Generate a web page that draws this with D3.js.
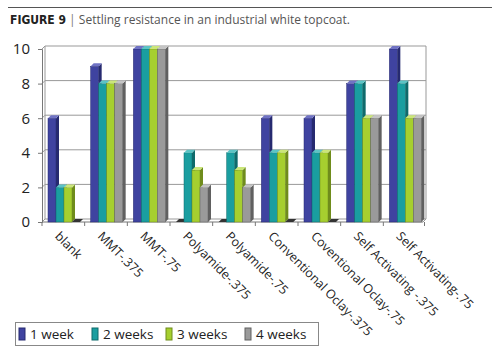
<!DOCTYPE html>
<html><head><meta charset="utf-8">
<script src="https://cdn.jsdelivr.net/npm/d3@7"></script>
<style>body{margin:0;background:#fff}svg{display:block}text{font-family:"Open Sans","Noto Sans",sans-serif}</style>
</head><body><svg id="c" width="500" height="359"></svg>
<script>
const categories = ["blank","MMT-.375","MMT-.75","Polyamide-.375","Polyamide-.75","Conventional Oclay-.375","Coventional Oclay-.75","Self Activating -.375","Self Activating-.75"];
const seriesNames = ["1 week","2 weeks","3 weeks","4 weeks"];
const week1 = [6,9,10,0,0,6,6,8,10];
const week2 = [2,8,10,4,4,4,4,8,8];
const week3 = [2,8,10,3,3,4,4,6,6];
const week4 = [0,8,10,2,2,0,0,6,6];
const yTicks = [0,2,4,6,8,10];
const seriesValues = [week1,week2,week3,week4];
const colors = [
  {front:"#3f43a0", side:"#262a70", top:"#7073c4"},
  {front:"#1a9ea0", side:"#0f6a6b", top:"#5cc4c5"},
  {front:"#a6cf2f", side:"#6f8c1c", top:"#cbe67a"},
  {front:"#9a9a9a", side:"#606060", top:"#c4c4c4"}
];

const svg = d3.select("#c");
const dx = 3, dy = 3;
const pLeft = 42, pRight = 426 - dx, pBottom = 222, pTop = 49;

// header rule
svg.append("line").attr("x1",8).attr("x2",492).attr("y1",7.5).attr("y2",7.5).attr("stroke","#555").attr("stroke-width",1.2);
const title = svg.append("text").attr("x",10).attr("y",24).attr("font-size",12);
title.append("tspan").text("FIGURE 9").attr("font-weight","bold").attr("font-family","'DejaVu Sans Condensed','Liberation Sans Narrow',sans-serif").attr("fill","#222");
title.append("tspan").text(" | ").attr("fill","#777");
title.append("tspan").text("Settling resistance in an industrial white topcoat.").attr("fill","#555");

const y = d3.scaleLinear().domain([0,10]).range([pBottom, pTop]);
const x0 = d3.scaleBand().domain(categories).range([pLeft, pRight + dx]).padding(0);
const x1 = d3.scaleBand().domain(seriesNames).range([6, 38]).padding(0);

// back wall gridlines
const g = svg.append("g");
yTicks.forEach(t => {
  g.append("line").attr("x1", pLeft + dx).attr("x2", pRight + dx)
    .attr("y1", y(t) - dy).attr("y2", y(t) - dy).attr("stroke", "#999").attr("stroke-width", 1);
  g.append("line").attr("x1", pLeft).attr("x2", pLeft + dx)
    .attr("y1", y(t)).attr("y2", y(t) - dy).attr("stroke", "#999");
});
g.append("line").attr("x1", pRight + dx).attr("x2", pRight + dx).attr("y1", y(10) - dy).attr("y2", y(0) - dy).attr("stroke","#999");
g.append("line").attr("x1", pLeft + dx).attr("x2", pLeft + dx).attr("y1", y(10) - dy).attr("y2", y(0) - dy).attr("stroke","#999");
g.append("line").attr("x1", pRight).attr("x2", pRight + dx).attr("y1", y(0)).attr("y2", y(0) - dy).attr("stroke","#999");

// y axis
const yAxis = d3.axisLeft(y).tickValues(yTicks).tickSize(4).tickPadding(8).tickFormat(d3.format("d"));
const ya = svg.append("g").attr("transform", `translate(${pLeft},0)`).call(yAxis);
ya.select(".domain").attr("stroke","#777");
ya.selectAll(".tick line").attr("stroke","#777");
ya.selectAll("text").attr("font-size",15).attr("fill","#222").attr("font-family","'Open Sans',sans-serif");

// x axis
const xAxis = d3.axisBottom(x0).tickSize(4).tickFormat("").tickSizeOuter(0);
const xa = svg.append("g").attr("transform", `translate(0,${pBottom})`).call(xAxis);
xa.select(".domain").remove();
xa.selectAll(".tick line").attr("transform", `translate(${-x0.bandwidth()/2},0)`).attr("stroke","#777");
xa.append("line").attr("x1", pRight + dx/2).attr("x2", pRight + dx/2).attr("y1",0).attr("y2",4).attr("stroke","#777");
xa.append("line").attr("x1", pLeft).attr("x2", pRight).attr("y1",0).attr("y2",0).attr("stroke","#777");

// bars
categories.forEach((c, ci) => {
  seriesNames.forEach((s, si) => {
    const v = seriesValues[si][ci];
    const bx = x0(c) + x1(s), bw = x1.bandwidth();
    const by = y(v), h = y(0) - by;
    const col = colors[si];
    const bg = svg.append("g");
    if (h > 0) {
      bg.append("rect").attr("x", bx).attr("y", by).attr("width", bw).attr("height", h).attr("fill", col.front).attr("stroke", col.side).attr("stroke-width",0.5);
    }
    bg.append("path").attr("d", `M${bx+bw},${by}L${bx+bw+dx},${by-dy}L${bx+bw+dx},${y(0)-dy}L${bx+bw},${y(0)}Z`).attr("fill", col.side);
    bg.append("path").attr("d", `M${bx},${by}L${bx+dx},${by-dy}L${bx+bw+dx},${by-dy}L${bx+bw},${by}Z`).attr("fill", h > 0 ? col.top : "#333");
  });
});

// category labels
categories.forEach(c => {
  const cx = x0(c) + x0.bandwidth()/2 - 6;
  svg.append("text").attr("transform", `translate(${cx},${pBottom + 12}) rotate(45)`)
    .attr("font-size", 12.5).attr("fill","#222").attr("dy","0.35em").text(c);
});

// legend
const lg = svg.append("g");
lg.append("rect").attr("x",15.5).attr("y",322.5).attr("width",303).attr("height",23).attr("fill","#fff").attr("stroke","#888");
const lx = [19, 92, 166, 245];
seriesNames.forEach((s, i) => {
  const col = colors[i];
  lg.append("rect").attr("x", lx[i]).attr("y", 328).attr("width", 6).attr("height", 12).attr("fill", col.front).attr("stroke", col.side).attr("stroke-width",1);
  lg.append("text").attr("x", lx[i] + 11).attr("y", 339).attr("font-size", 13.5).attr("fill","#222").text(s);
});
</script></body></html>
